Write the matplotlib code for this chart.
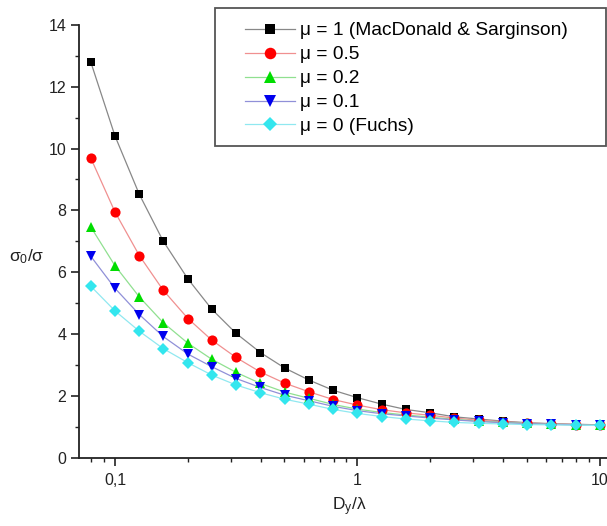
import matplotlib
matplotlib.use("Agg")
import matplotlib.pyplot as plt
from matplotlib.patches import Rectangle
from matplotlib.ticker import FixedLocator, FixedFormatter, LogLocator, MultipleLocator, NullFormatter

plt.rcParams['font.family'] = ['Liberation Sans', 'DejaVu Sans']

# Data
x = [0.0794, 0.1, 0.126, 0.158, 0.2, 0.251, 0.316, 0.398, 0.501, 0.631, 0.794,
     1.0, 1.26, 1.58, 2.0, 2.51, 3.16, 3.98, 5.01, 6.31, 7.94, 10.0]
mu_1 = [12.81, 10.41, 8.52, 7.01, 5.78, 4.80, 4.02, 3.40, 2.90, 2.51, 2.18,
        1.94, 1.73, 1.56, 1.45, 1.32, 1.25, 1.18, 1.13, 1.10, 1.08, 1.06]
mu_05 = [9.70, 7.95, 6.54, 5.42, 4.50, 3.80, 3.24, 2.77, 2.41, 2.13, 1.88,
         1.70, 1.55, 1.45, 1.37, 1.28, 1.21, 1.16, 1.12, 1.09, 1.07, 1.05]
mu_02 = [7.47, 6.21, 5.20, 4.37, 3.70, 3.18, 2.76, 2.40, 2.12, 1.92, 1.72,
         1.57, 1.46, 1.38, 1.31, 1.24, 1.18, 1.14, 1.11, 1.08, 1.06, 1.05]
mu_01 = [6.52, 5.48, 4.63, 3.92, 3.35, 2.94, 2.56, 2.27, 2.02, 1.84, 1.66,
         1.52, 1.42, 1.35, 1.28, 1.22, 1.17, 1.13, 1.10, 1.08, 1.06, 1.04]
mu_0 = [5.55, 4.75, 4.09, 3.53, 3.07, 2.67, 2.35, 2.10, 1.89, 1.73, 1.56,
        1.43, 1.33, 1.25, 1.19, 1.14, 1.11, 1.09, 1.07, 1.06, 1.05, 1.04]

labels = ["\u03bc = 1 (MacDonald & Sarginson)", "\u03bc = 0.5", "\u03bc = 0.2",
          "\u03bc = 0.1", "\u03bc = 0 (Fuchs)"]
series = [mu_1, mu_05, mu_02, mu_01, mu_0]
colors = ["#000000", "#ff0000", "#00dd00", "#0000ee", "#33e6ee"]
line_colors = ["#888888", "#f09090", "#90e090", "#9090d8", "#90e8f0"]
markers = ["s", "o", "^", "v", "D"]
msizes = [6.3, 7.3, 7.5, 7.5, 6.3]

xticks = [0.1, 1, 10]
xticklabels = ["0,1", "1", "10"]

fig = plt.figure(figsize=(6.07, 5.26), dpi=100)
ax = fig.add_axes([0.130, 0.130, 0.870, 0.8225])

handles = []
for ys, c, lc, m, ms, lab in zip(series, colors, line_colors, markers, msizes, labels):
    ax.plot(x, ys, color=lc, lw=0.9, zorder=2)
    ax.plot(x, ys, linestyle='none', marker=m, color=c, markersize=ms,
            markeredgewidth=0, zorder=3)
    h, = ax.plot([], [], color=lc, lw=0.9, marker=m, markerfacecolor=c,
                 markeredgewidth=0, markersize=ms + 1.0, label=lab)
    handles.append(h)

ax.set_xscale('log')
ax.set_xlim(0.0710, 10.7)
ax.set_ylim(0, 14)

ax.xaxis.set_major_locator(FixedLocator(xticks))
ax.xaxis.set_major_formatter(FixedFormatter(xticklabels))
ax.xaxis.set_minor_locator(LogLocator(base=10, subs=range(2, 10)))
ax.xaxis.set_minor_formatter(NullFormatter())
ax.yaxis.set_major_locator(MultipleLocator(2))
ax.yaxis.set_minor_locator(MultipleLocator(1))

for s in ['top', 'right']:
    ax.spines[s].set_visible(False)
for s in ['left', 'bottom']:
    ax.spines[s].set_linewidth(1.3)
    ax.spines[s].set_color('#222222')

ax.tick_params(which='major', direction='out', length=6, width=1.2, labelsize=11.5,
               colors='#222222', pad=3)
ax.tick_params(which='minor', direction='out', length=3, width=1.0, colors='#222222')
ax.tick_params(axis='x', which='major', pad=5)

fig.text(0.044, 0.513, "\u03c3$\\mathregular{_0}$/\u03c3", fontsize=12.5,
         ha='center', va='center', color='#222222')
fig.text(0.575, 0.036, "D$\\mathregular{_y}$/\u03bb", fontsize=12.5,
         ha='center', va='center', color='#222222')

# legend frame (figure pixels 215..606 x 8..146)
W, H = 607.0, 526.0
fig.patches.append(Rectangle((215 / W, 1 - 146 / H), (606 - 215) / W, (146 - 8) / H,
                             transform=fig.transFigure, fill=True, facecolor='white',
                             edgecolor='#555555', linewidth=1.3, zorder=5))

leg = fig.legend(handles=handles, loc='upper left',
                 bbox_to_anchor=(245 / W, 1 - 22 / H),
                 fontsize=13.8, frameon=False, borderaxespad=0, borderpad=0,
                 handlelength=2.6, handletextpad=0.28, labelspacing=0.34)
leg.set_zorder(6)

fig.savefig("out.png", dpi=100)
